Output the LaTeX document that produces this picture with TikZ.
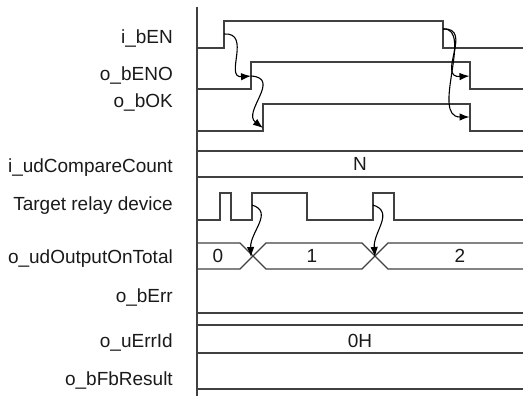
\documentclass[tikz,border=0pt]{standalone}
\usepackage{fontspec}
\setmainfont{Liberation Sans}
\usetikzlibrary{arrows.meta}
\definecolor{sigcol}{HTML}{404040}
\definecolor{txtcol}{HTML}{1A1A1A}
\begin{document}
\begin{tikzpicture}[x=1pt,y=-1pt,
  sig/.style={draw=sigcol,line width=1.4pt,line join=miter},
  lbl/.style={anchor=base east,inner sep=0pt,font=\fontsize{19}{21}\selectfont,text=txtcol},
  val/.style={anchor=base,inner sep=0pt,font=\fontsize{19}{21}\selectfont,text=txtcol},
  cause/.style={draw=black,line width=1.1pt,-{Latex[length=10pt,width=7.5pt]}}]
\useasboundingbox (0,0) rectangle (523,396);
% axis
\draw[sig,line width=1.6pt] (197,7) -- (197,396);
% labels
\node[lbl] (l1) at (173,44) {i\_bEN};
\node[lbl] (l2) at (173,81) {o\_bENO};
\node[lbl] (l3) at (173,108) {o\_bOK};
\node[lbl] (l4) at (173,172) {i\_udCompareCount};
\node[lbl] (l5) at (173,211) {Target relay device};
\node[lbl] (l6) at (173,263) {o\_udOutputOnTotal};
\node[lbl] (l7) at (173,302) {o\_bErr};
\node[lbl] (l8) at (173,347) {o\_uErrId};
\node[lbl] (l9) at (173,385) {o\_bFbResult};
% signals
\draw[sig] (197,48) -- (224,48) -- (224,21) -- (443,21) -- (443,48) -- (523,48);
\draw[sig] (197,89) -- (251,89) -- (251,62) -- (470,62) -- (470,89) -- (523,89);
\draw[sig] (197,131) -- (263,131) -- (263,104) -- (470,104) -- (470,131) -- (523,131);
\draw[sig] (197,151) -- (523,151);
\draw[sig] (197,177) -- (523,177);
\node[val] (vN) at (360,171) {N};
\draw[sig] (197,220) -- (220,220) -- (220,193) -- (231,193) -- (231,220) -- (252,220) -- (252,193) -- (307,193) -- (307,220) -- (373,220) -- (373,193) -- (394,193) -- (394,220) -- (523,220);
\draw[sig] (197,243) -- (240,243) -- (266,269) -- (362,269) -- (388,243) -- (523,243);
\draw[sig] (197,269) -- (240,269) -- (266,243) -- (362,243) -- (388,269) -- (523,269);
\node[val] (v0) at (218,262.5) {0};
\node[val] (v1) at (312,262.5) {1};
\node[val] (v2) at (460,262.5) {2};
\draw[sig] (197,313) -- (523,313);
\draw[sig] (197,325) -- (523,325);
\draw[sig] (197,353) -- (523,353);
\node[val] (vH) at (360,347) {0H};
\draw[sig] (197,389) -- (523,389);
% cause arrows
\coordinate (enR) at (224,34);
\coordinate (enoR) at (251,76);
\coordinate (okR) at (263,128);
\coordinate (enF) at (443,29);
\coordinate (enoF) at (469.5,76);
\coordinate (okF) at (469.5,117);
\coordinate (t1) at (252,205);
\coordinate (x1) at (251,257);
\coordinate (t2) at (373,205);
\coordinate (x2) at (375,257);
\draw[cause] (enR) .. controls (252,32) and (224,78) .. (enoR);
\draw[cause] (enoR) .. controls (282,78) and (242,112) .. (okR);
\draw[cause] (enF) .. controls (474,27) and (436,78) .. (enoF);
\draw[cause] (enF) .. controls (474,27) and (430,117) .. (okF);
\draw[cause] (t1) .. controls (274,212) and (250,232) .. (x1);
\draw[cause] (t2) .. controls (395,212) and (373,232) .. (x2);
\end{tikzpicture}
\end{document}
